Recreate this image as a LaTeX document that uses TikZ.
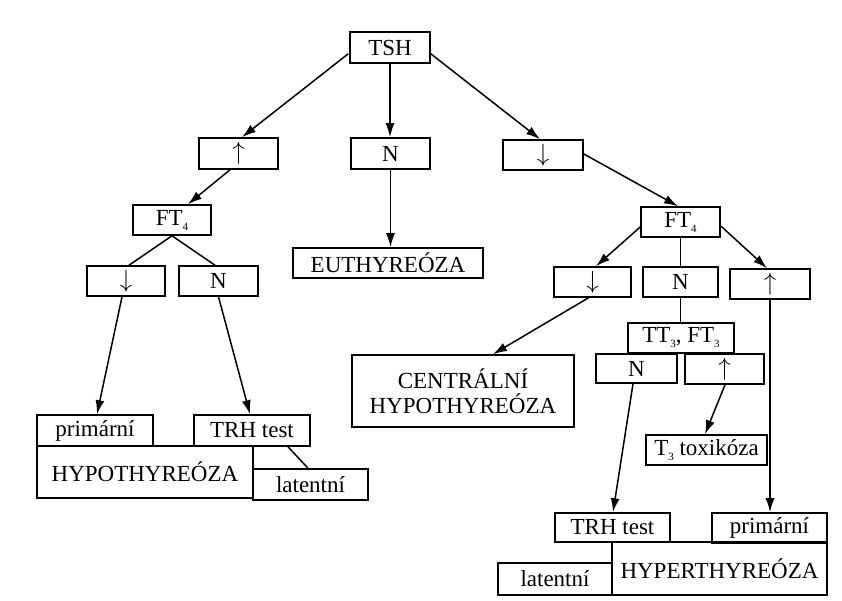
\documentclass[tikz,border=0pt]{standalone}
\usepackage{fontspec}
\setmainfont{Liberation Serif}
\usetikzlibrary{calc,arrows.meta}
\newcommand{\lowsub}[1]{\raisebox{-5pt}{\fontsize{11}{11}\selectfont #1}}
\begin{document}
\begin{tikzpicture}[x=1pt,y=-1pt,
  bx/.style={draw,line width=1.6pt,inner sep=0pt,font=\fontsize{23}{26}\selectfont},
  arr/.style={line width=1.5pt,-{Latex[length=14pt,width=9pt]}},
  ln/.style={line width=1.5pt}]
\useasboundingbox (0,0) rectangle (842,600);
% boxes
\node[bx,minimum width=80pt,minimum height=31pt] (tsh) at (390,47.5) {TSH};
\node[bx,minimum width=79pt,minimum height=31pt] (up1) at (238.5,153.5) {$\uparrow$};
\node[bx,minimum width=79pt,minimum height=31pt] (n1) at (390.5,153.5) {N};
\node[bx,minimum width=80pt,minimum height=30pt] (dn1) at (543,155) {$\downarrow$};
\node[bx,minimum width=78pt,minimum height=30pt] (ft4L) at (172,220) {FT\lowsub{4}};
\node[bx,minimum width=190pt,minimum height=30pt] (euthy) at (388,263) {EUTHYREÓZA};
\node[bx,minimum width=79pt,minimum height=30pt] (ft4R) at (680.5,222) {FT\lowsub{4}};
\node[bx,minimum width=78pt,minimum height=30pt] (dnL) at (126,281) {$\downarrow$};
\node[bx,minimum width=79pt,minimum height=30pt] (nL) at (218.5,281) {N};
\node[bx,minimum width=77pt,minimum height=30pt] (dnR) at (592.5,282) {$\downarrow$};
\node[bx,minimum width=75pt,minimum height=30pt] (nR) at (680.5,282) {N};
\node[bx,minimum width=80pt,minimum height=30pt] (upR) at (770,284) {$\uparrow$};
% hypothyreoza group
\node[bx,minimum width=216pt,minimum height=52pt] (hypo) at (145,472) {HYPOTHYREÓZA};
\node[bx,minimum width=116pt,minimum height=31pt] (primL) at (95,430.5) {primární};
\node[bx,minimum width=116pt,minimum height=31pt] (trhL) at (252,430.5) {TRH test};
\node[bx,minimum width=115pt,minimum height=31pt] (latL) at (310.5,484.5) {latentní};
% central
\node[bx,minimum width=222pt,minimum height=72pt,align=center] (central) at (463,391) {CENTRÁLNÍ\\[-1pt]HYPOTHYREÓZA};
% T3 branch
\node[bx,minimum width=106pt,minimum height=30pt] (tt3) at (681,338) {TT\lowsub{3}, FT\lowsub{3}};
\node[bx,fill=white,minimum width=81pt,minimum height=29pt] (nT) at (636.5,368.5) {N};
\node[bx,fill=white,minimum width=79pt,minimum height=30pt] (upT) at (724.5,369) {$\uparrow$};
\node[bx,minimum width=121pt,minimum height=30pt] (t3tox) at (706.5,450) {T\lowsub{3} toxikóza};
% hyperthyreoza group
\node[bx,minimum width=215pt,minimum height=53pt] (hyper) at (719.5,568.5) {HYPERTHYREÓZA};
\node[bx,minimum width=115pt,minimum height=29pt] (trhR) at (612.5,527.5) {TRH test};
\node[bx,minimum width=115pt,minimum height=30pt] (primR) at (769.5,528) {primární};
\node[bx,minimum width=114pt,minimum height=32pt] (latR) at (555,579) {latentní};
% connectors
\draw[arr] ($(tsh.south west)+(-1,-10)$) -- ($(up1.north)+(3.5,0)$);
\draw[arr] (tsh.south) -- (tsh.south |- n1.north);
\draw[arr] ($(tsh.south east)+(0,-10)$) -- ($(dn1.north)+(-3,0)$);
\draw[arr] ($(up1.south)+(-8.5,0)$) -- ($(ft4L.north)+(16,0)$);
\draw[arr] (n1.south) -- (n1.south |- euthy.north);
\draw[arr] ($(dn1.east)+(0,-1)$) -- ($(ft4R.north)+(-2.5,0)$);
\draw[ln] (ft4L.south) -- ($(dnL.north)+(3,0)$);
\draw[ln] (ft4L.south) -- ($(nL.north)+(-3.5,0)$);
\draw[arr] ($(ft4R.west)+(0,5)$) -- ($(dnR.north)+(3.5,0)$);
\draw[ln] (ft4R.south) -- (nR.north);
\draw[arr] ($(ft4R.east)+(0,4)$) -- ($(upR.north)+(-3,0)$);
\draw[arr] ($(dnL.south)+(-4,0)$) -- ($(primL.north)+(2,0)$);
\draw[arr] (nL.south) -- ($(trhL.north)+(-2,0)$);
\draw[ln] ($(trhL.south)+(36,0)$) -- ($(latL.north)+(-2.5,0)$);
\draw[arr] ($(dnR.south)+(-4,0)$) -- ($(central.north)+(30,0)$);
\draw[ln] (nR.south) -- (nR.south |- tt3.north);
\draw[arr] ($(nT.south)+(-3.5,0)$) -- ($(trhR.north)+(0.5,0)$);
\draw[arr] ($(upT.south)+(0.5,0)$) -- ($(t3tox.north)+(-1.5,0)$);
\draw[arr] (upR.south) -- (upR.south |- primR.north);
\end{tikzpicture}
\end{document}
